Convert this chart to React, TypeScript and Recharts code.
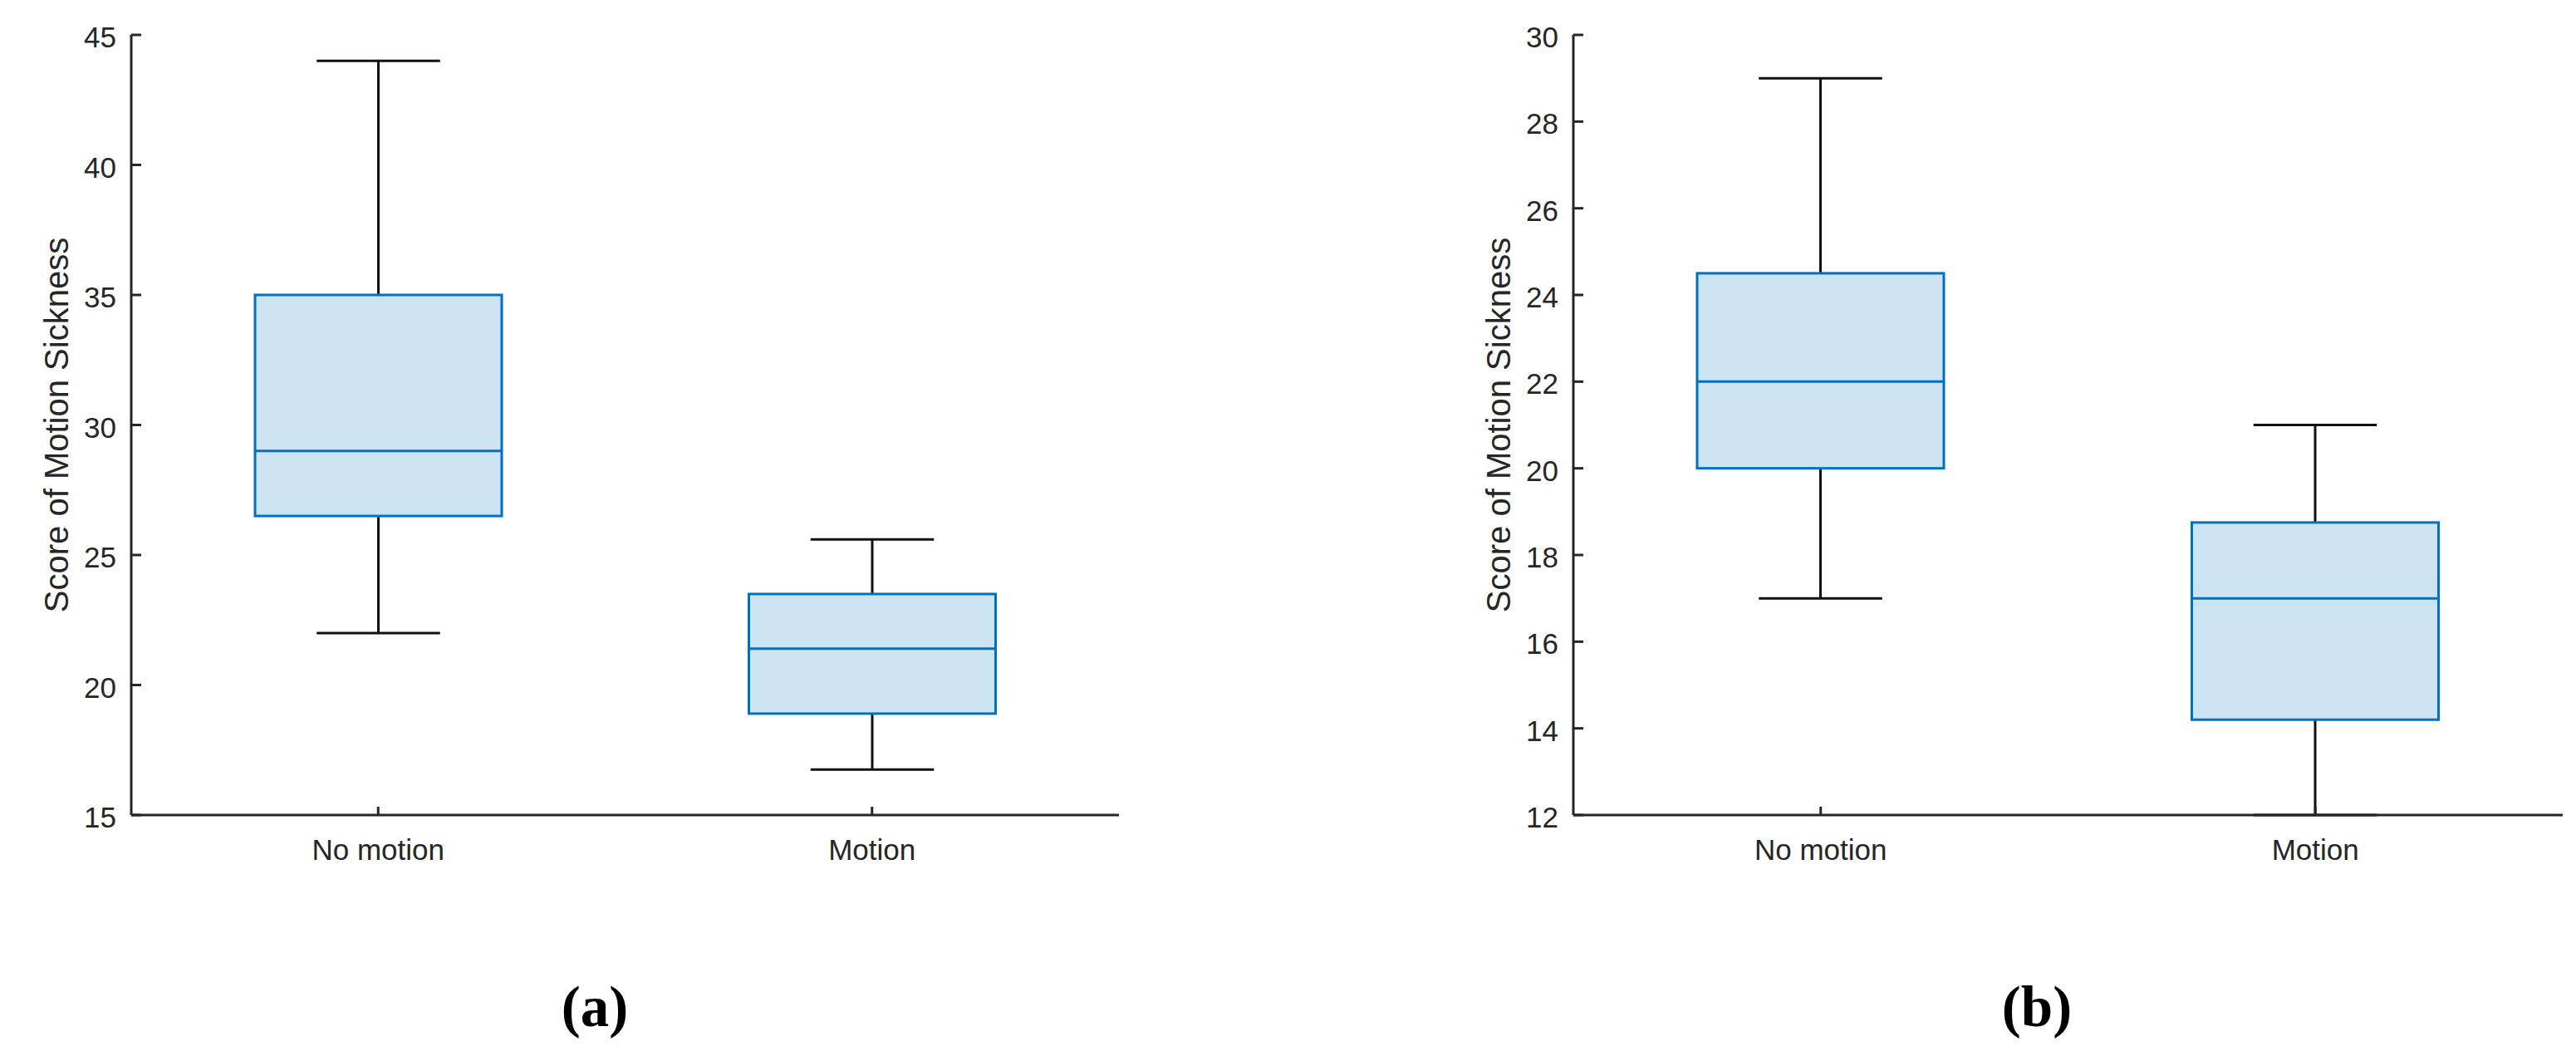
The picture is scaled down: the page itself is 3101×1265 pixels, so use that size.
import React from 'react';
import { ComposedChart, Bar, XAxis, YAxis } from 'recharts';

const categories = ['No motion', 'Motion'];

// panel (a)
const aMin = [22, 16.75];
const aQ1 = [26.5, 18.9];
const aMedian = [29, 21.4];
const aQ3 = [35, 23.5];
const aMax = [44, 25.6];
const aTicks = [15, 20, 25, 30, 35, 40, 45];

// panel (b)
const bMin = [17, 12];
const bQ1 = [20, 14.2];
const bMedian = [22, 17];
const bQ3 = [24.5, 18.75];
const bMax = [29, 21];
const bTicks = [12, 14, 16, 18, 20, 22, 24, 26, 28, 30];

const AXIS = '#262626';
const EDGE = '#0072BD';
const FILL = '#cce3f2';
const SANS = '"Liberation Sans", Arial, Helvetica, sans-serif';

type Row = { name: string; min: number; q1: number; median: number; q3: number; max: number };

const buildRows = (mn: number[], q1: number[], md: number[], q3: number[], mx: number[]): Row[] =>
  categories.map((name, i) => ({ name, min: mn[i], q1: q1[i], median: md[i], q3: q3[i], max: mx[i] }));

const dataA = buildRows(aMin, aQ1, aMedian, aQ3, aMax);
const dataB = buildRows(bMin, bQ1, bMedian, bQ3, bMax);

const WhiskerShape = (props: any) => {
  const { x, y, width, height } = props;
  const top = Math.min(y, y + height);
  const h = Math.abs(height);
  const cx = x + width / 2;
  const half = width / 4;
  return (
    <g>
      <line x1={cx} x2={cx} y1={top} y2={top + h} stroke="#111" strokeWidth={3} />
      <line x1={cx - half} x2={cx + half} y1={top} y2={top} stroke="#111" strokeWidth={3} />
      <line x1={cx - half} x2={cx + half} y1={top + h} y2={top + h} stroke="#111" strokeWidth={3} />
    </g>
  );
};

const BoxShape = (props: any) => {
  const { x, y, width, height, payload } = props;
  const top = Math.min(y, y + height);
  const h = Math.abs(height);
  const p: Row = payload;
  const my = top + (h * (p.q3 - p.median)) / (p.q3 - p.q1);
  return (
    <g>
      <rect x={x} y={top} width={width} height={h} fill={FILL} stroke={EDGE} strokeWidth={3} />
      <line x1={x} x2={x + width} y1={my} y2={my} stroke={EDGE} strokeWidth={3} />
    </g>
  );
};

const YTick = (props: any) => {
  const { x, y, payload } = props;
  return (
    <g>
      <line x1={x} x2={x + 12} y1={y} y2={y} stroke={AXIS} strokeWidth={3} />
      <text x={x - 18} y={y + 15} textAnchor="end" fontSize={35} fontFamily={SANS} fill={AXIS}>
        {payload.value}
      </text>
    </g>
  );
};

const XTick = (props: any) => {
  const { x, y, payload } = props;
  return (
    <g>
      <line x1={x} x2={x} y1={y} y2={y - 10} stroke={AXIS} strokeWidth={3} />
      <text x={x} y={y + 54} textAnchor="middle" fontSize={35} fontFamily={SANS} fill={AXIS}>
        {payload.value}
      </text>
    </g>
  );
};

const YLabel = (props: any) => {
  const vb = props.viewBox || {};
  const bx = vb.x + vb.width - 76;
  const cy = vb.y + vb.height / 2;
  return (
    <text
      x={bx}
      y={cy}
      transform={`rotate(-90, ${bx}, ${cy})`}
      textAnchor="middle"
      fontSize={40}
      fontFamily={SANS}
      fill={AXIS}
    >
      Score of Motion Sickness
    </text>
  );
};

type PanelProps = {
  data: Row[];
  ticks: number[];
  left: number;
  width: number;
  yAxisWidth: number;
  marginRight: number;
};

const Panel = ({ data, ticks, left, width, yAxisWidth, marginRight }: PanelProps) => (
  <div style={{ position: 'absolute', left, top: 0 }}>
    <ComposedChart
      width={width}
      height={1100}
      data={data}
      margin={{ top: 42, right: marginRight, bottom: 39, left: 0 }}
    >
      <XAxis xAxisId="wh" dataKey="name" hide />
      <XAxis
        xAxisId="box"
        dataKey="name"
        height={80}
        tickLine={false}
        tickSize={0}
        tickMargin={0}
        axisLine={{ stroke: AXIS, strokeWidth: 3 }}
        tick={<XTick />}
        interval={0}
      />
      <YAxis
        type="number"
        domain={[ticks[0], ticks[ticks.length - 1]]}
        ticks={ticks}
        width={yAxisWidth}
        tickLine={false}
        tickSize={0}
        tickMargin={0}
        axisLine={{ stroke: AXIS, strokeWidth: 3 }}
        tick={<YTick />}
        interval={0}
        label={(p: any) => <YLabel {...p} />}
      />
      <Bar
        xAxisId="wh"
        dataKey={(d: Row) => [d.min, d.max]}
        barSize={297}
        shape={<WhiskerShape />}
        isAnimationActive={false}
      />
      <Bar
        xAxisId="box"
        dataKey={(d: Row) => [d.q1, d.q3]}
        barSize={297}
        shape={<BoxShape />}
        isAnimationActive={false}
      />
    </ComposedChart>
  </div>
);

export default function App() {
  return (
    <div style={{ position: 'absolute', left: 0, top: 0, width: 3101, height: 1265, background: '#fff', overflow: 'hidden' }}>
      <Panel data={dataA} ticks={aTicks} left={0} width={1550} yAxisWidth={158} marginRight={203} />
      <Panel data={dataB} ticks={bTicks} left={1550} width={1551} yAxisWidth={344} marginRight={16} />
      <svg width={3101} height={1265} style={{ position: 'absolute', left: 0, top: 0, pointerEvents: 'none' }}>
        <text x={716} y={1235} textAnchor="middle" fontSize={69} fontWeight="bold" fontFamily='"Liberation Serif", "Times New Roman", serif' fill="#000">
          (a)
        </text>
        <text x={2452} y={1235} textAnchor="middle" fontSize={69} fontWeight="bold" fontFamily='"Liberation Serif", "Times New Roman", serif' fill="#000">
          (b)
        </text>
      </svg>
    </div>
  );
}
